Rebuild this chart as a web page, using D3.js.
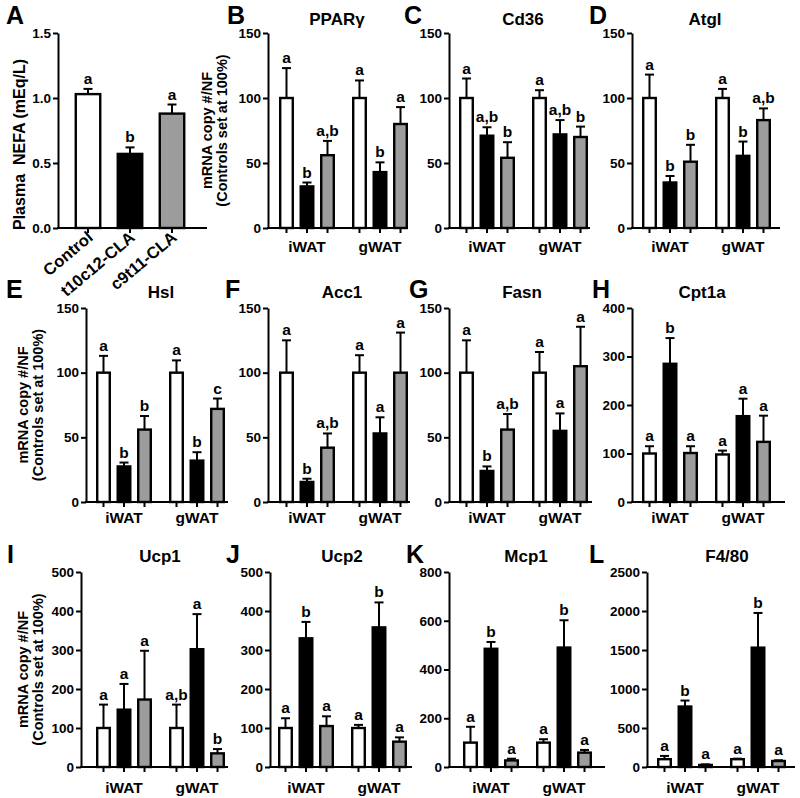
<!DOCTYPE html>
<html><head><meta charset="utf-8">
<script src="https://cdn.jsdelivr.net/npm/d3@7"></script>
<style>
body{margin:0;background:#fff}
svg text{font-family:"Liberation Sans",Arial,Helvetica,sans-serif;font-weight:bold;fill:#000}
</style></head><body>
<svg id="chart" width="800" height="798"></svg>
<script>
// ---------- data ----------
const groups = ["iWAT", "gWAT"];
const conditions = ["Control", "t10c12-CLA", "c9t11-CLA"];
const fills = ["#ffffff", "#000000", "#9c9c9c"];

// Panel A: plasma NEFA (mEq/L)
const nefaMean = [1.03, 0.57, 0.88];
const nefaSem  = [0.04, 0.05, 0.07];
const nefaSig  = ["a", "b", "a"];
const nefaTicks = [0, 0.5, 1.0, 1.5];

// Gene panels: order = iWAT (Control, t10c12, c9t11), gWAT (Control, t10c12, c9t11)
const ppargMean = [100, 32, 56, 100, 43, 80];
const ppargSem  = [23, 3, 11, 13.5, 7.5, 13];
const ppargSig  = ["a", "b", "a,b", "a", "b", "a"];

const cd36Mean = [100, 71, 54, 100, 72, 70];
const cd36Sem  = [15, 6.5, 12, 6, 11, 8];
const cd36Sig  = ["a", "a,b", "b", "a", "a,b", "b"];

const atglMean = [100, 35, 51, 100, 55.5, 83];
const atglSem  = [18, 5, 13, 7, 11, 9];
const atglSig  = ["a", "b", "b", "a", "b", "a,b"];

const hslMean = [100, 27.5, 56, 100, 32, 72];
const hslSem  = [13, 3, 10.5, 9.5, 6.5, 8];
const hslSig  = ["a", "b", "b", "a", "b", "c"];

const acc1Mean = [100, 15.5, 42, 100, 53, 100];
const acc1Sem  = [25, 2.5, 11, 13.5, 12.5, 31];
const acc1Sig  = ["a", "b", "a,b", "a", "a", "a"];

const fasnMean = [100, 24, 56, 100, 55, 105];
const fasnSem  = [25, 3.5, 12, 16, 13.5, 30.5];
const fasnSig  = ["a", "b", "a,b", "a", "a", "a"];

const cpt1aMean = [100, 285, 101, 98, 177, 124];
const cpt1aSem  = [15, 53, 14, 8, 36, 54];
const cpt1aSig  = ["a", "b", "a", "a", "a", "a"];

const ucp1Mean = [100, 147, 173, 100, 302, 35];
const ucp1Sem  = [60, 66, 125, 60, 90, 11];
const ucp1Sig  = ["a", "a", "a", "a,b", "a", "b"];

const ucp2Mean = [100, 330, 105, 100, 358, 65];
const ucp2Sem  = [25, 42, 25, 8, 64, 11];
const ucp2Sig  = ["a", "b", "a", "a", "b", "a"];

const mcp1Mean = [100, 485, 27, 100, 490, 59];
const mcp1Sem  = [65, 28, 7, 14, 112, 11];
const mcp1Sig  = ["a", "b", "a", "a", "b", "a"];

const f480Mean = [100, 775, 26, 100, 1530, 77];
const f480Sem  = [42, 77, 8, 7, 445, 9];
const f480Sig  = ["a", "b", "a", "a", "b", "a"];

const ticks150  = [0, 50, 100, 150];
const ticks400  = [0, 100, 200, 300, 400];
const ticks500  = [0, 100, 200, 300, 400, 500];
const ticks800  = [0, 200, 400, 600, 800];
const ticks2500 = [0, 500, 1000, 1500, 2000, 2500];

// ---------- layout ----------
const rows = [{top: 33, bottom: 228, lab: 252}, {top: 308, bottom: 502, lab: 523}, {top: 572, bottom: 767, lab: 793}];

const panels = [
  {letter: "B", lx: 227, title: "PPARγ", tx: 337, row: 0, axisX: 268, barStart: 270.5, xEnd: 405, mean: ppargMean, sem: ppargSem, sig: ppargSig, ticks: ticks150, ylab: 212},
  {letter: "C", lx: 404, title: "Cd36",  tx: 523, row: 0, axisX: 449, barStart: 450.5, xEnd: 590, mean: cd36Mean, sem: cd36Sem, sig: cd36Sig, ticks: ticks150},
  {letter: "D", lx: 589, title: "Atgl",  tx: 705, row: 0, axisX: 632, barStart: 633.5, xEnd: 780, mean: atglMean, sem: atglSem, sig: atglSig, ticks: ticks150},
  {letter: "E", lx: 6,   title: "Hsl",   tx: 161, row: 1, axisX: 86,  barStart: 87.5,  xEnd: 228, mean: hslMean, sem: hslSem, sig: hslSig, ticks: ticks150, ylab: 28},
  {letter: "F", lx: 225, title: "Acc1",  tx: 342, row: 1, axisX: 268, barStart: 270.5, xEnd: 410, mean: acc1Mean, sem: acc1Sem, sig: acc1Sig, ticks: ticks150},
  {letter: "G", lx: 409, title: "Fasn",  tx: 522, row: 1, axisX: 449, barStart: 450.5, xEnd: 592, mean: fasnMean, sem: fasnSem, sig: fasnSig, ticks: ticks150},
  {letter: "H", lx: 592, title: "Cpt1a", tx: 702, row: 1, axisX: 632, barStart: 633.5, xEnd: 785, mean: cpt1aMean, sem: cpt1aSem, sig: cpt1aSig, ticks: ticks400},
  {letter: "I", lx: 7,   title: "Ucp1",  tx: 160, row: 2, axisX: 81,  barStart: 87.5,  xEnd: 228, mean: ucp1Mean, sem: ucp1Sem, sig: ucp1Sig, ticks: ticks500, ylab: 28},
  {letter: "J", lx: 226, title: "Ucp2",  tx: 342, row: 2, axisX: 270, barStart: 269.5, xEnd: 412, mean: ucp2Mean, sem: ucp2Sem, sig: ucp2Sig, ticks: ticks500},
  {letter: "K", lx: 406, title: "Mcp1",  tx: 526, row: 2, axisX: 449, barStart: 454.5, xEnd: 605, mean: mcp1Mean, sem: mcp1Sem, sig: mcp1Sig, ticks: ticks800},
  {letter: "L", lx: 589, title: "F4/80", tx: 727, row: 2, axisX: 647, barStart: 648.5, xEnd: 795, mean: f480Mean, sem: f480Sem, sig: f480Sig, ticks: ticks2500}
];

const svg = d3.select("#chart");
const SW = 2.4;

function yAxis(g, y, x, tickVals, fmt) {
  const ax = g.append("g").attr("transform", `translate(${x},0)`)
    .call(d3.axisLeft(y).tickValues(tickVals).tickSize(5).tickSizeOuter(0).tickPadding(2).tickFormat(fmt));
  ax.attr("font-family", null).attr("font-size", null);
  ax.select(".domain").attr("stroke", "#000").attr("stroke-width", 2);
  ax.selectAll(".tick line").attr("stroke", "#000").attr("stroke-width", 2);
  ax.selectAll(".tick text").style("font-size", "13.5px");
}

function bars(g, data, y) {
  data.forEach(d => {
    const yt = y(d.mean), ye = y(d.mean + d.sem);
    g.append("line").attr("x1", d.cx).attr("x2", d.cx).attr("y1", yt).attr("y2", ye)
      .attr("stroke", "#000").attr("stroke-width", 2);
    g.append("line").attr("x1", d.cx - 4.5).attr("x2", d.cx + 4.5).attr("y1", ye).attr("y2", ye)
      .attr("stroke", "#000").attr("stroke-width", 2);
    g.append("rect").attr("x", d.x + SW / 2).attr("width", d.w - SW)
      .attr("y", yt).attr("height", y(0) - yt)
      .attr("fill", d.fill).attr("stroke", "#000").attr("stroke-width", SW);
    g.append("text").attr("x", d.cx).attr("y", ye - 5).attr("text-anchor", "middle")
      .style("font-size", "15.5px").text(d.sig);
  });
}

function xAxis(g, x0, x1, yb, centers) {
  g.append("line").attr("x1", x0 - 1).attr("x2", x1).attr("y1", yb).attr("y2", yb)
    .attr("stroke", "#000").attr("stroke-width", 2);
  centers.forEach(c => g.append("line").attr("x1", c).attr("x2", c).attr("y1", yb).attr("y2", yb + 5)
    .attr("stroke", "#000").attr("stroke-width", 2));
}

// ---------- Panel A ----------
{
  const g = svg.append("g");
  const r = rows[0];
  const y = d3.scaleLinear().domain([0, 1.5]).range([r.bottom, r.top]);
  const x = d3.scaleBand().domain(conditions).range([60, 200]).paddingInner(0.36).paddingOuter(0.347);
  const data = conditions.map((c, i) => ({x: x(c), w: x.bandwidth(), cx: x(c) + x.bandwidth() / 2,
    mean: nefaMean[i], sem: nefaSem[i], sig: nefaSig[i], fill: fills[i]}));
  bars(g, data, y);
  yAxis(g, y, 58, nefaTicks, d3.format(".1f"));
  xAxis(g, 58, 207, r.bottom, data.map(d => d.cx));
  data.forEach((d, i) => g.append("text")
    .attr("transform", `translate(${d.cx + 6},${r.bottom + 11}) rotate(-40)`)
    .attr("text-anchor", "end").style("font-size", "16.5px").text(conditions[i]));
  g.append("text").attr("transform", `translate(25,${(r.top + r.bottom) / 2 + 14}) rotate(-90)`)
    .attr("text-anchor", "middle").style("font-size", "16px").attr("xml:space", "preserve")
    .text("Plasma  NEFA (mEq/L)");
  g.append("text").attr("x", 6).attr("y", 24).style("font-size", "25px").text("A");
}

// ---------- Gene panels ----------
panels.forEach(p => {
  const g = svg.append("g");
  const r = rows[p.row];
  const y = d3.scaleLinear().domain([0, d3.max(p.ticks)]).range([r.bottom, r.top]);
  const x0 = d3.scaleBand().domain(groups).range([p.barStart, p.barStart + 146]);
  const x1 = d3.scaleBand().domain(conditions).range([0, x0.bandwidth()]).paddingInner(0.27).paddingOuter(0.415);
  const data = [];
  groups.forEach((gr, gi) => conditions.forEach((c, ci) => {
    const k = gi * 3 + ci;
    const xx = x0(gr) + x1(c);
    data.push({x: xx, w: x1.bandwidth(), cx: xx + x1.bandwidth() / 2, mean: p.mean[k], sem: p.sem[k], sig: p.sig[k], fill: fills[ci]});
  }));
  bars(g, data, y);
  yAxis(g, y, p.axisX, p.ticks, d3.format("d"));
  xAxis(g, p.axisX, p.xEnd, r.bottom, data.map(d => d.cx));
  groups.forEach(gr => g.append("text").attr("x", x0(gr) + x0.bandwidth() / 2).attr("y", r.lab)
    .attr("text-anchor", "middle").style("font-size", "15.5px").text(gr));
  const ty = [25, 298, 562][p.row];
  g.append("text").attr("x", p.tx).attr("y", ty).attr("text-anchor", "middle").style("font-size", "17px").text(p.title);
  g.append("text").attr("x", p.lx).attr("y", [24, 298, 563][p.row]).style("font-size", "25px").text(p.letter);
  if (p.ylab !== undefined) {
    const cy = (r.top + r.bottom) / 2;
    g.append("text").attr("transform", `translate(${p.ylab},${cy}) rotate(-90)`).attr("text-anchor", "middle")
      .style("font-size", "14.5px").text("mRNA copy #/NF");
    g.append("text").attr("transform", `translate(${p.ylab + 15},${cy}) rotate(-90)`).attr("text-anchor", "middle")
      .style("font-size", "14.5px").text("(Controls set at 100%)");
  }
});
</script>
</body></html>
